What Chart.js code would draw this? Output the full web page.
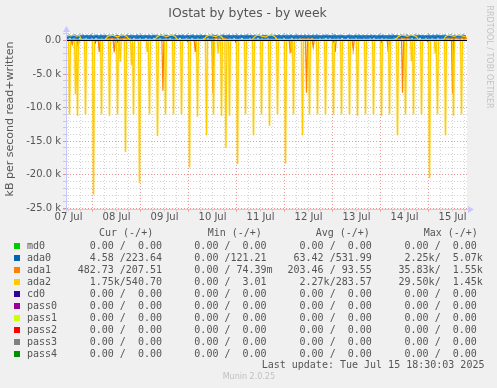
<!DOCTYPE html>
<html><head><meta charset="utf-8">
<script src="https://cdn.jsdelivr.net/npm/chart.js@4/dist/chart.umd.min.js"></script>
<style>
html,body{margin:0;padding:0;background:#f0f0f0;}
#wrap{position:relative;width:497px;height:388px;overflow:hidden;background:#f0f0f0;}
canvas{position:absolute;left:0;top:0;}
.t{position:absolute;white-space:pre;color:#555;}
.mono{font-family:'DejaVu Sans Mono',monospace;font-size:10px;line-height:12px;}
.sq{position:absolute;width:6px;height:6px;}
</style></head><body>
<div id="wrap">
<canvas id="c" width="497" height="388"></canvas>
<div class="t" style="left:0;width:495px;top:5px;text-align:center;font:12.4px/16px 'DejaVu Sans';color:#555;">IOstat by bytes - by week</div>
<div class="t" style="left:-90px;top:112px;width:200px;text-align:center;font:11px/14px 'DejaVu Sans';transform:rotate(-90deg);color:#555;">kB per second read+written</div>
<div class="t" style="left:413.7px;top:51.5px;width:150px;text-align:center;font:8px/10px 'DejaVu Sans';transform:rotate(90deg);color:#c4c4c4;">RRDTOOL / TOBI OETIKER</div>
<div id="legend"></div>
<div class="t mono" style="left:261.7px;top:359px;">Last update: Tue Jul 15 18:30:03 2025</div>
<div class="t" style="left:222.7px;top:372px;font:8px/10px 'DejaVu Sans';color:#c0c0c0;">Munin 2.0.25</div>
</div>
<script>
// ---------------- data ----------------
const dayLabels = ['07 Jul','08 Jul','09 Jul','10 Jul','11 Jul','12 Jul','13 Jul','14 Jul','15 Jul'];
const devices = ['md0','ada0','ada1','ada2','cd0','pass0','pass1','pass2','pass3','pass4'];
const deviceColors = ['#00cc00','#0066b3','#ff8000','#ffcc00','#330099','#990099','#ccff00','#ff0000','#808080','#008f00'];
const curRead  = ['0.00','4.58','482.73','1.75k','0.00','0.00','0.00','0.00','0.00','0.00'];
const curWrite = ['0.00','223.64','207.51','540.70','0.00','0.00','0.00','0.00','0.00','0.00'];
const minRead  = ['0.00','0.00','0.00','0.00','0.00','0.00','0.00','0.00','0.00','0.00'];
const minWrite = ['0.00','121.21','74.39m','3.01','0.00','0.00','0.00','0.00','0.00','0.00'];
const avgRead  = ['0.00','63.42','203.46','2.27k','0.00','0.00','0.00','0.00','0.00','0.00'];
const avgWrite = ['0.00','531.99','93.55','283.57','0.00','0.00','0.00','0.00','0.00','0.00'];
const maxRead  = ['0.00','2.25k','35.83k','29.50k','0.00','0.00','0.00','0.00','0.00','0.00'];
const maxWrite = ['0.00','5.07k','1.55k','1.45k','0.00','0.00','0.00','0.00','0.00','0.00'];

// time in hours since 07 Jul 00:00; values in k (kB/s / 1000)
const ada2ReadHours = [12.5,15.5,16.5,20.5,24.5,28.5,32.5,36.5,37.85,40.5,43.5,44.5,47.5,51.35,52.5,56.5,60.5,64.5,68.5,72.5,76.5,81,84.5,86.85,88.5,90.7,92.5,96.5,100.5,104.5,108.5,112.5,116.5,120.5,123.5,124.5,129,132.5,136.5,140.5,144.5,148.5,152.5,156.5,160.5,164.5,168.5,172.5,176.5,180.5,183.5,184.5,188.5,192.5,195.35,196.5,200.5,204.5,208.5];
const ada2ReadK     = [-11.0,-8.0,-11.2,-11.0,-22.9,-11.0,-11.2,-11.0,-3.2,-16.6,-3.7,-11.0,-21.2,-1.7,-11.0,-14.2,-11.0,-11.0,-11.0,-18.9,-11.3,-14.1,-11.0,-1.9,-11.2,-16.0,-11.2,-18.4,-11.0,-14.1,-11.0,-12.7,-11.0,-18.3,-1.8,-11.0,-14.1,-11.0,-11.0,-11.0,-11.0,-11.0,-11.0,-11.2,-11.0,-11.0,-11.2,-11.0,-14.1,-11.0,-3.1,-11.0,-11.0,-20.5,-1.9,-11.0,-14.1,-11.2,-11.0];
const ada1ReadHours = [13.85,16.85,27.35,34.85,59.2,75.35,84.2,122.85,131,134.35,145.35,154.35,171.85,179,204];
const ada1ReadK     = [-0.6,-0.8,-1.7,-1.8,-7.5,-1.7,-7.8,-1.9,-7.8,-1.0,-1.7,-1.4,-1.7,-7.8,-7.9];
const ada0ReadHours = [25.35,36.85,71.85,95.85,144.35,168.35,191.85];
const ada0ReadK     = [-0.45,-0.4,-0.3,-0.4,-0.3,-0.35,-0.3];
const ada2WriteHours = [11.25,12,13.5,14.5,16,17.5,18.5,30.5,31.5,33.5,35,36.5,38,39.5,41,42.5,55,56.5,58,59.5,61,62.5,64,65.5,66.5,79.5,81,82.5,84,85.5,87,88.5,89.5,103.5,105.5,107,109,110.5,112,113.5,115,116.5,175.5,177,178.5,180,181.5,183,184.5,186,187,199.5,200.5,202,203.5,205,206.5,208,209.5,211.25];
const ada2WriteK     = [.6,.75,.7,.8,.65,.75,.1,.08,.6,.78,.7,.5,.75,.8,.6,.1,.08,.6,.8,.7,.55,.75,.8,.55,.1,.08,.6,.8,.65,.55,.78,.6,.1,.08,.65,.8,.6,.5,.75,.8,.6,.1,.08,.6,.8,.75,.6,.8,.75,.55,.1,.08,.6,.8,.7,.6,.8,.75,.6,.5];
const ada1WriteHours = [11.25,30,33,36,40,44,84,86,89,92,126,128,134,136,176,180,184,200,203,207,211.25];
const ada1WriteK     = [.1,.1,.3,.15,.3,.1,.1,.35,.4,.1,.1,.2,.2,.1,.1,.3,.1,.1,.3,.35,.3];
// ada0 written, one value per 30 min starting 07 Jul 11:15
const ada0WriteK = [
.82,.15,.86,.30,.78,.10,.84,.25,.88,.20,.80,.12,.85,.32,.83,.08,.87,.22,.79,.28,
.85,.18,.81,.12,.88,.26,.77,.10,.84,.30,.86,.20,.80,.14,.87,.24,.82,.09,.85,.30,
.79,.20,.86,.13,.83,.28,.88,.11,.80,.22,.85,.30,.78,.16,.86,.10,.84,.27,.81,.19,
.87,.12,.80,.25,.85,.08,.83,.30,.79,.18,.88,.14,.82,.26,.86,.10,.80,.21,.84,.29,
.81,.16,.87,.23,.78,.12,.85,.30,.83,.09,.86,.20,.80,.27,.88,.13,.82,.18,.85,.25,
.84,.11,.79,.28,.86,.19,.82,.07,.88,.24,.80,.15,.85,.31,.83,.12,.87,.20,.78,.26,
.86,.22,.81,.10,.84,.29,.88,.17,.79,.13,.85,.25,.82,.08,.87,.21,.80,.30,.84,.14,
.80,.27,.85,.12,.83,.20,.87,.09,.81,.28,.86,.16,.78,.23,.84,.11,.88,.26,.82,.18,
.83,.13,.88,.24,.80,.10,.85,.29,.82,.17,.87,.08,.79,.22,.86,.31,.81,.14,.84,.20,
.88,.19,.82,.27,.85,.11,.80,.23,.86,.15,.83,.30,.87,.12,.78,.25,.85,.09,.82,.21,
.84,.26,.79,.14,.87,.20,.83,.10,.85,.28,.81,.17,.88,.23,.80,.12,.86,.29,.83,.15,
.86,.09,.82,.21,.88,.30,.79,.13,.84,.24,.87,.11,.81,.27,.85,.18,.80,.22,.87,.10,
.81,.24,.85,.16,.80,.29,.86,.12,.83,.20,.88,.08,.82,.26,.79,.15,.86,.23,.84,.30,
.87,.14,.83,.28,.81,.10,.86,.22,.88,.17,.80,.25,.84,.09,.85,.31,.82,.19,.78,.12,
.82,.30,.88,.11,.84,.23,.79,.16,.86,.27,.83,.13,.87,.20,.81,.08,.85,.24,.80,.18,
.85,.20,.80,.26,.87,.12,.82,.29,.84,.15,.79,.22,.88,.10,.83,.27,.86,.14,.81,.25,
.80,.13,.86,.21,.83,.09,.88,.24,.81,.30,.85,.16,.79,.12,.87,.28,.84,.19,.82,.11,
.88,.25,.81,.17,.85,.29,.80,.10,.87,.22,.83,.14,.86,.31,.82,.08,.84,.20,.79,.27,
.83,.18,.87,.12,.80,.26,.86,.20,.82,.11,.88,.29,.84,.15,.81,.23,.85,.09,.87,.24,
.79,.28,.84,.14,.88,.21,.81,.07,.85,.26,.80,.19,.86,.12,.83,.30,.87,.16,.82,.22];

// ---------------- helpers ----------------
const X_MIN = 11.25, X_MAX = 211.25, X_START = 11.25, X_STEP = 0.5;
function spikeSeries(hours, vals){
  const pts = [{x:X_MIN,y:0},{x:X_MAX,y:0}];
  hours.forEach((h,i)=>{ pts.push({x:h-0.5,y:0},{x:h,y:vals[i]*1000},{x:h+0.5,y:0}); });
  return pts.sort((a,b)=>a.x-b.x);
}
function pathSeries(hours, vals){ return hours.map((h,i)=>({x:h,y:vals[i]*1000})); }
function denseSeries(vals){ return vals.map((v,i)=>({x:X_START+i*X_STEP,y:v*1000})); }

// legend
function fmt(s){ const last=s.slice(-1); const suf=/[a-z]/i.test(last)?last:' '; const num=suf===' '?s:s.slice(0,-1); return num.padStart(6)+suf; }
const lg = document.getElementById('legend');
let html = '';
const cols = [77.7,182.3,287.5,392.5];
const heads = [['Cur (-/+)',99],['Min (-/+)',207.7],['Avg (-/+)',315.7],['Max (-/+)',423.7]];
heads.forEach(h=>{ html += `<div class="t mono" style="left:${h[1]}px;top:227.3px;">${h[0]}</div>`; });
devices.forEach((d,i)=>{
  const top = 239.7 + 12*i;
  html += `<div class="sq" style="left:14px;top:${top+3}px;background:${deviceColors[i]}"></div>`;
  html += `<div class="t mono" style="left:27px;top:${top}px;">${d}</div>`;
  const f = [fmt(curRead[i])+'/'+fmt(curWrite[i]), fmt(minRead[i])+'/'+fmt(minWrite[i]), fmt(avgRead[i])+'/'+fmt(avgWrite[i]), fmt(maxRead[i])+'/'+fmt(maxWrite[i])];
  f.forEach((s,j)=>{ html += `<div class="t mono" style="left:${cols[j]}px;top:${top}px;">${s}</div>`; });
});
lg.innerHTML = html;

// ---------------- chart ----------------
const RED = 'rgba(225,80,80,0.6)', GRAY = 'rgba(150,150,150,0.42)';
const decor = {
  id:'decor',
  beforeDraw(chart){
    const {ctx, chartArea:a} = chart;
    ctx.save(); ctx.fillStyle='#ffffff'; ctx.fillRect(a.left,a.top,a.right-a.left,a.bottom-a.top); ctx.restore();
  },
  afterDatasetsDraw(chart){
    const {ctx, chartArea:a} = chart;
    const y0 = Math.round(chart.scales.y.getPixelForValue(0)) + 0.5;
    ctx.save();
    ctx.strokeStyle = '#000'; ctx.lineWidth = 1;
    ctx.beginPath(); ctx.moveTo(a.left, y0); ctx.lineTo(a.right, y0); ctx.stroke();
    const ax = 'rgb(200,200,255)';
    ctx.strokeStyle = ax; ctx.fillStyle = ax;
    const yb = Math.round(a.bottom)+0.5, xl = Math.round(a.left)-0.5;
    ctx.beginPath(); ctx.moveTo(a.left-4, yb); ctx.lineTo(a.right+3, yb); ctx.stroke();
    ctx.beginPath(); ctx.moveTo(a.right+1, yb-3.5); ctx.lineTo(a.right+7, yb); ctx.lineTo(a.right+1, yb+3.5); ctx.closePath(); ctx.fill();
    ctx.beginPath(); ctx.moveTo(xl, a.bottom+4); ctx.lineTo(xl, a.top-2); ctx.stroke();
    ctx.beginPath(); ctx.moveTo(xl-3.5, a.top-1); ctx.lineTo(xl, a.top-7); ctx.lineTo(xl+3.5, a.top-1); ctx.closePath(); ctx.fill();
    ctx.restore();
  }
};
const line = (data, color, w, extra) => Object.assign({data, borderColor:color, borderWidth:w, pointRadius:0, tension:0, fill:false}, extra||{});
new Chart(document.getElementById('c'), {
  type:'line',
  data:{ datasets:[
    line(spikeSeries(ada2ReadHours, ada2ReadK), '#ffcc00', 1.2, {label:'ada2 read'}),
    line(pathSeries(ada2WriteHours, ada2WriteK), '#ffcc00', 1.2, {label:'ada2 written'}),
    line(spikeSeries(ada1ReadHours, ada1ReadK), '#ff8000', 1.2, {label:'ada1 read'}),
    line(pathSeries(ada1WriteHours, ada1WriteK), '#ff8000', 1, {label:'ada1 written'}),
    line(spikeSeries(ada2ReadHours, ada2ReadK), 'rgba(255,204,0,0.25)', 3, {label:'ada2 read halo'}),
    line(spikeSeries(ada0ReadHours, ada0ReadK), '#0066b3', 1, {label:'ada0 read'}),
    line(denseSeries(ada0WriteK), '#0066b3', 1, {label:'ada0 written'})
  ]},
  options:{
    responsive:false, animation:false, events:[],
    layout:{padding:{left:0,top:33,right:30,bottom:159.5}},
    plugins:{legend:{display:false}, tooltip:{enabled:false}},
    scales:{
      x:{type:'linear', min:X_MIN, max:X_MAX,
        afterBuildTicks(s){ const t=[]; for(let h=12; h<=X_MAX; h+=6) t.push({value:h}); s.ticks=t; },
        afterFit(s){ s.height = 20; },
        grid:{color:c=>c.tick && c.tick.value%24===0?RED:GRAY, lineWidth:1, drawTicks:true, tickLength:3},
        border:{display:false, dash:[1,2]},
        ticks:{autoSkip:false, maxRotation:0, minRotation:0, padding:0, color:'#555', font:{family:'DejaVu Sans', size:10},
          callback(v){ return (v-12)%24===0 ? dayLabels[(v-12)/24] : ''; }}
      },
      y:{type:'linear', min:-25000, max:1100,
        afterBuildTicks(s){ const t=[]; for(let v=-25000; v<=1000; v+=1000) t.push({value:v}); s.ticks=t; },
        afterFit(s){ s.width = 67; },
        grid:{color:c=>c.tick && c.tick.value%5000===0?RED:GRAY, lineWidth:1, drawTicks:true, tickLength:4},
        border:{display:false, dash:[1,2]},
        ticks:{autoSkip:false, padding:2, color:'#555', font:{family:'DejaVu Sans', size:10},
          callback(v){ if(v===0) return '0.0'; return v%5000===0 ? (v/1000).toFixed(1)+' k' : ''; }}
      }
    }
  },
  plugins:[decor]
});
</script>
</body></html>
